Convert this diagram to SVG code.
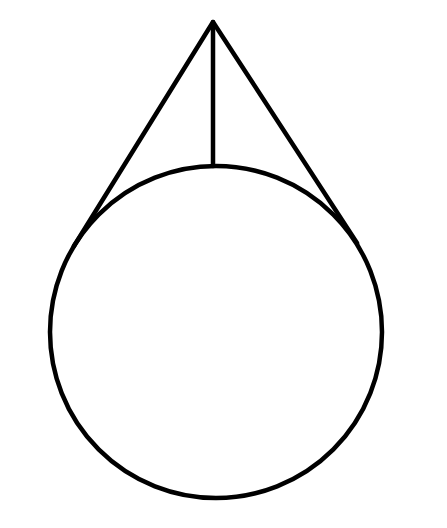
<svg xmlns="http://www.w3.org/2000/svg" width="447" height="528" viewBox="0 0 447 528">
<style>.s{fill:none;stroke:#000;stroke-width:4.5;stroke-linecap:round;stroke-linejoin:round}</style>
<rect width="447" height="528" fill="#fff"/>
<g id="circle"><circle class="s" cx="216" cy="332" r="166"/></g>
<g id="connectors">
<polyline class="s" points="74,246 213,22 357,243"/>
<line class="s" x1="213" y1="22" x2="213" y2="166"/>
</g>
</svg>
